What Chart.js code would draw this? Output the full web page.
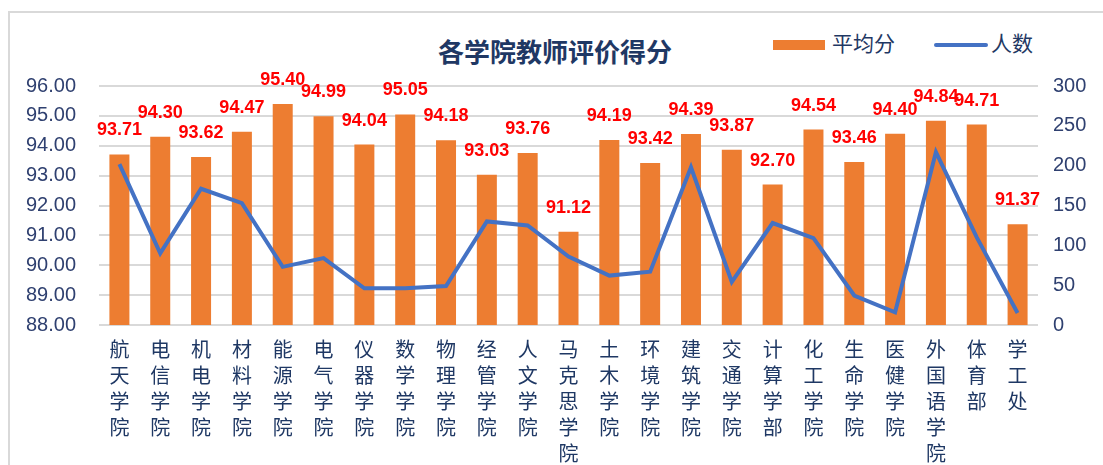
<!DOCTYPE html>
<html><head><meta charset="utf-8">
<script src="https://cdn.jsdelivr.net/npm/chart.js@4/dist/chart.umd.min.js"></script>
<style>
html,body{margin:0;padding:0;background:#fff;}
#wrap{position:relative;width:1103px;height:465px;overflow:hidden;}
#frame{position:absolute;left:8px;top:11px;width:1200px;height:600px;border:2px solid #d9d9d9;box-sizing:border-box;}
#title{position:absolute;left:0;width:1110px;top:33px;text-align:center;font:bold 26px "Noto Sans CJK SC";color:#1f3864;line-height:36px;}
.lg{position:absolute;top:27px;font:21px "Noto Sans CJK SC";color:#1f3864;line-height:30px;}
canvas{position:absolute;left:0;top:0;}
</style></head>
<body><div id="wrap"><div id="frame"></div>
<div id="title">各学院教师评价得分</div>
<div class="lg" style="left:773px;"><span style="display:inline-block;width:52px;height:10px;background:#ED7D31;vertical-align:middle;margin-right:7px;"></span>平均分</div>
<div class="lg" style="left:934px;"><span style="display:inline-block;width:54px;height:4px;border-radius:2px;background:#4472C4;vertical-align:middle;margin-right:3px;"></span>人数</div>
<canvas id="c" width="1103" height="465"></canvas></div>
<script>
const categories = ['航天学院','电信学院','机电学院','材料学院','能源学院','电气学院','仪器学院','数学学院','物理学院','经管学院','人文学院','马克思学院','土木学院','环境学院','建筑学院','交通学院','计算学部','化工学院','生命学院','医健学院','外国语学院','体育部','学工处'];
const avgScore = [93.71,94.30,93.62,94.47,95.40,94.99,94.04,95.05,94.18,93.03,93.76,91.12,94.19,93.42,94.39,93.87,92.70,94.54,93.46,94.40,94.84,94.71,91.37];
const headcount = [202,90,171,153,73,84,46,46,49,130,125,86,62,67,198,54,128,109,37,16,217,110,15];
const leftTicks = [88,89,90,91,92,93,94,95,96];
const rightTicks = [0,50,100,150,200,250,300];

const labelPlugin = {
  id:'barLabels',
  afterDatasetsDraw(chart){
    const ctx = chart.ctx;
    const meta = chart.getDatasetMeta(0);
    ctx.save();
    ctx.fillStyle = '#FF0000';
    ctx.font = 'bold 18px "Liberation Sans", Arial';
    ctx.textAlign = 'center';
    ctx.textBaseline = 'middle';
    meta.data.forEach((bar,i)=>{
      ctx.fillText(avgScore[i].toFixed(2), bar.x, bar.y - 24);
    });
    ctx.restore();
  }
};

new Chart(document.getElementById('c'), {
  data:{
    labels: categories.map(s=>s.split('')),
    datasets:[
      {type:'bar',label:'平均分',data:avgScore,backgroundColor:'#ED7D31',yAxisID:'y',order:2,barPercentage:0.5,categoryPercentage:0.98},
      {type:'line',label:'人数',data:headcount,borderColor:'#4472C4',borderWidth:4,pointRadius:0,tension:0,yAxisID:'y1',order:1}
    ]
  },
  options:{
    responsive:false,animation:false,
    layout:{padding:{top:86,left:0,right:0,bottom:0}},
    plugins:{legend:{display:false},title:{display:false},tooltip:{enabled:false}},
    scales:{
      x:{
        grid:{display:false},border:{display:false},
        ticks:{color:'#1f3864',font:{family:'"Noto Sans CJK SC"',size:20,lineHeight:1.3},maxRotation:0,autoSkip:false,padding:3},
        afterFit(s){s.height=140;}
      },
      y:{
        position:'left',min:88,max:96,
        afterBuildTicks(s){s.ticks=leftTicks.map(v=>({value:v}));},
        grid:{color:'#d9d9d9',lineWidth:2,drawTicks:false},border:{display:false},
        ticks:{color:'#2f4070',font:{family:'"Liberation Sans", Arial',size:20},padding:23,callback:v=>Number(v).toFixed(2)},
        afterFit(s){s.width=99;}
      },
      y1:{
        position:'right',min:0,max:300,
        afterBuildTicks(s){s.ticks=rightTicks.map(v=>({value:v}));},
        grid:{display:false,drawTicks:false},border:{display:false},
        ticks:{color:'#2f4070',font:{family:'"Liberation Sans", Arial',size:20},padding:15},
        afterFit(s){s.width=65;}
      }
    }
  },
  plugins:[labelPlugin]
});
</script></body></html>
